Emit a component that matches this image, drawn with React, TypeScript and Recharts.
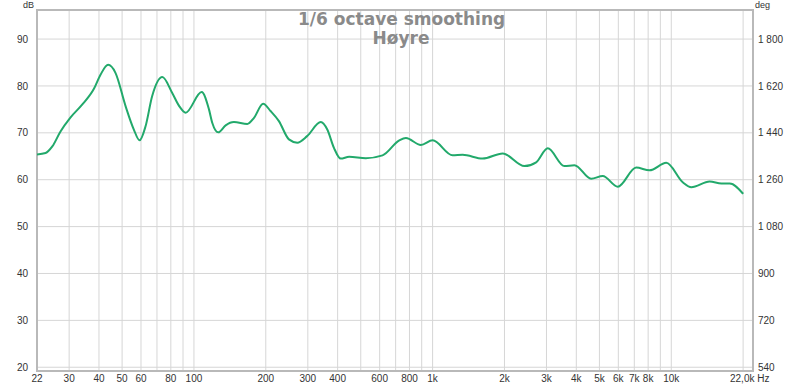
import React from 'react'
import {
  LineChart,
  Line,
  XAxis,
  YAxis,
  CartesianGrid,
  ReferenceArea,
} from 'recharts'

// frequency response
const freqs = [
  22, 23.9, 25.5, 27.6, 30.3, 34, 38.1, 40.6, 43.7, 46.9, 51.7, 56, 59.2, 62.7, 66.8,
  73.7, 81.1, 86.5, 92.3, 107.7, 115.6, 119.4, 126.5, 135.8, 147, 167.3, 178.5, 194.9,
  209.8, 227, 250, 271, 298, 340, 362, 386, 412, 447, 525, 617,
  725, 773, 893, 1000, 1213, 1336, 1620, 1966, 2424, 2715, 3036, 3566, 3929, 4616,
  5164, 5970, 7130, 8110, 9530, 11200, 12130, 14480, 16220, 17570, 20000,
]
const levels = [
  65.4, 65.7, 67.1, 70.3, 73.2, 76.0, 79.4, 82.4, 84.5, 82.8, 75.7, 70.7, 68.4, 71.4, 77.8,
  81.9, 78.5, 75.8, 74.3, 78.7, 75.0, 72.1, 70.1, 71.6, 72.3, 71.9, 73.2, 76.2,
  74.6, 72.5, 68.6, 67.9, 69.3, 72.3, 70.7, 66.8, 64.5, 64.9, 64.6, 65.2,
  68.4, 68.9, 67.4, 68.4, 65.2, 65.3, 64.5, 65.6, 62.9, 63.7, 66.7, 62.9, 63.1, 60.2,
  60.8, 58.5, 62.6, 62.0, 63.6, 59.4, 58.4, 59.6, 59.2, 59.2, 57.0,
]

const freqTicks = [
  22, 30, 40, 50, 60, 70, 80, 90, 100, 200, 300, 400, 500, 600, 700, 800, 900,
  1000, 2000, 3000, 4000, 5000, 6000, 7000, 8000, 9000, 10000, 20000, 22000,
]
const freqLabels: Record<number, string> = {
  22: '22', 30: '30', 40: '40', 50: '50', 60: '60', 80: '80', 100: '100',
  200: '200', 300: '300', 400: '400', 600: '600', 800: '800', 1000: '1k',
  2000: '2k', 3000: '3k', 4000: '4k', 5000: '5k', 6000: '6k', 7000: '7k',
  8000: '8k', 10000: '10k', 22000: '22,0k Hz',
}
const dbTicks = [20, 30, 40, 50, 60, 70, 80, 90]
const degTicks = [540, 720, 900, 1080, 1260, 1440, 1620, 1800]

const data = freqs.map((f, i) => ({ f, db: levels[i] }))

const FONT = '"Liberation Sans", Arial, sans-serif'

function FreqTick({ x, y, payload }: any) {
  const label = freqLabels[payload.value]
  if (!label) return null
  const isEnd = payload.value === 22000
  return (
    <text
      x={isEnd ? x - 23 : x}
      y={y}
      dy="0.71em"
      textAnchor={isEnd ? 'start' : 'middle'}
      fontSize={10}
      fill="#333"
      fontFamily={FONT}
    >
      {label}
    </text>
  )
}

const fmtDeg = (v: number) =>
  v >= 1000 ? `${Math.floor(v / 1000)} ${String(v % 1000).padStart(3, '0')}` : String(v)

export default function App() {
  return (
    <div style={{ position: 'relative', width: 800, height: 387, background: '#fff' }}>
      <style>{'body{margin:0}'}</style>
      <LineChart
        width={800}
        height={387}
        data={data}
        margin={{ top: 10, right: 0, bottom: 0, left: 0 }}
        style={{ fontFamily: FONT }}
      >
        <CartesianGrid stroke="#d6d6d6" strokeWidth={1} yAxisId="db" />
        <XAxis
          dataKey="f"
          type="number"
          scale="log"
          domain={[22, 22000]}
          ticks={freqTicks}
          interval={0}
          tick={<FreqTick />}
          tickLine={false}
          axisLine={false}
          tickSize={0}
          tickMargin={4}
          height={16}
          allowDataOverflow
        />
        <YAxis
          yAxisId="db"
          type="number"
          domain={[19.2, 96.2]}
          ticks={dbTicks}
          interval={0}
          width={37}
          tickLine={false}
          axisLine={false}
          tickSize={6}
          tickMargin={3}
          tick={{ fontSize: 10, fill: '#333' }}
          allowDataOverflow
        />
        <YAxis
          yAxisId="deg"
          orientation="right"
          type="number"
          domain={[525.6, 1911.6]}
          ticks={degTicks}
          interval={0}
          width={47}
          tickLine={false}
          axisLine={false}
          tickSize={3}
          tickMargin={2}
          tickFormatter={fmtDeg}
          tick={{ fontSize: 10, fill: '#333', textAnchor: 'start' }}
          allowDataOverflow
        />
        <ReferenceArea
          yAxisId="db"
          x1={22}
          x2={22000}
          y1={19.2}
          y2={96.2}
          fill="none"
          stroke="#b9b9b9"
          strokeWidth={2}
          ifOverflow="visible"
        />
        <Line
          yAxisId="db"
          type="monotone"
          dataKey="db"
          stroke="#22a96b"
          strokeWidth={2}
          dot={false}
          isAnimationActive={false}
        />
      </LineChart>
      <div style={{ position: 'absolute', left: 23, top: 0, fontSize: 9, color: '#333', fontFamily: FONT }}>dB</div>
      <div style={{ position: 'absolute', left: 755, top: 0, fontSize: 9, color: '#333', fontFamily: FONT }}>deg</div>
      <div
        style={{
          position: 'absolute',
          left: 298,
          width: 206,
          top: 10,
          textAlign: 'center',
          fontFamily: '"DejaVu Sans", sans-serif',
          fontWeight: 'bold',
          fontSize: 17,
          lineHeight: '19px',
          color: '#8a8a8a',
        }}
      >
        <div style={{ whiteSpace: 'nowrap' }}>1/6 octave smoothing</div>
        <div>Høyre</div>
      </div>
    </div>
  )
}
